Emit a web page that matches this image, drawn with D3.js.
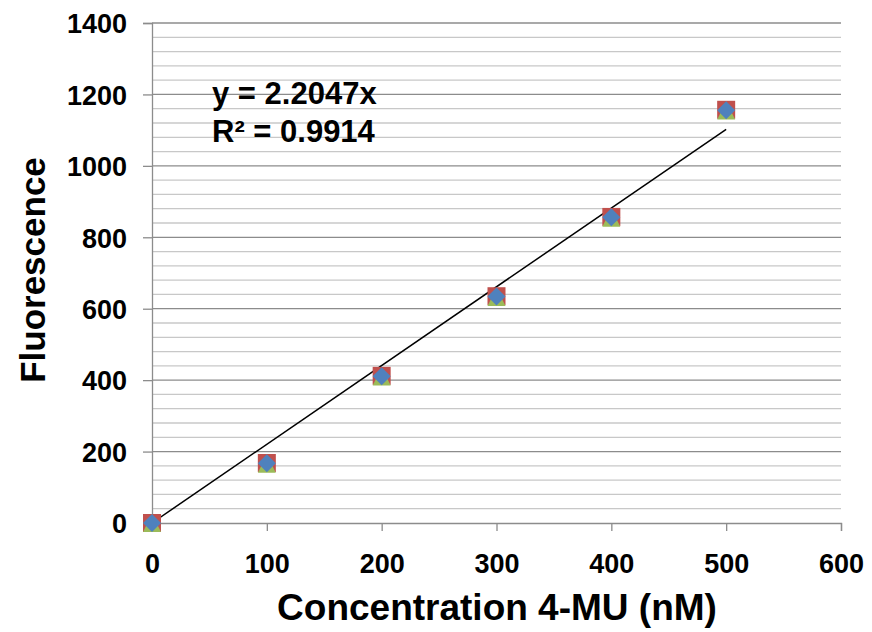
<!DOCTYPE html>
<html>
<head>
<meta charset="utf-8">
<script src="https://cdn.jsdelivr.net/npm/d3@7"></script>
<style>
  body { margin: 0; background: #fff; }
  text { font-family: "Liberation Sans", Arial, sans-serif; font-weight: bold; fill: #000; }
</style>
</head>
<body>
<svg id="chart" width="872" height="632"></svg>
<script>
// concentrations (nM) and fluorescence readings, three replicates
var concentrations = [0, 100, 200, 300, 400, 500];
var seriesRed = [0, 168, 412, 635, 857, 1157];
var seriesGreen = [0, 166, 410, 633, 855, 1155];
var seriesBlue = [0, 167, 411, 634, 856, 1156];
var xTicks = [0, 100, 200, 300, 400, 500, 600];
var yTicks = [0, 200, 400, 600, 800, 1000, 1200, 1400];
var slope = 2.2047;

var svg = d3.select('#chart');
var margin = { left: 152, right: 31, top: 23, bottom: 109 };
var W = 872, H = 632;

var x = d3.scaleLinear().domain([0, 600]).range([margin.left, W - margin.right]);
var y = d3.scaleLinear().domain([0, 1400]).range([H - margin.bottom, margin.top]);

// minor gridlines every 40
var minor = d3.range(40, 1400, 40).filter(function (v) { return v % 200 !== 0; });
svg.append('g').selectAll('line').data(minor).enter().append('line')
  .attr('x1', x(0)).attr('x2', x(600))
  .attr('y1', function (d) { return y(d); }).attr('y2', function (d) { return y(d); })
  .attr('stroke', '#c8c8c8').attr('stroke-width', 1.3);

// major gridlines
svg.append('g').selectAll('line').data(yTicks.slice(1)).enter().append('line')
  .attr('x1', x(0)).attr('x2', x(600))
  .attr('y1', function (d) { return y(d); }).attr('y2', function (d) { return y(d); })
  .attr('stroke', '#8c8c8c').attr('stroke-width', 1.3);

// axes
var fmt = d3.format('d');
var yAxis = svg.append('g').attr('transform', 'translate(' + x(0) + ',0)')
  .call(d3.axisLeft(y).tickValues(yTicks).tickFormat(fmt).tickSize(9));
var xAxis = svg.append('g').attr('transform', 'translate(0,' + y(0) + ')')
  .call(d3.axisBottom(x).tickValues(xTicks).tickFormat(fmt).tickSize(8));
[xAxis, yAxis].forEach(function (a) {
  a.select('.domain').attr('stroke', '#8c8c8c').attr('stroke-width', 1.3);
  a.selectAll('.tick line').attr('stroke', '#8c8c8c').attr('stroke-width', 1.3);
  a.selectAll('.tick text').style('font-size', '27px').style('font-family', '"Liberation Sans", Arial, sans-serif').style('font-weight', 'bold').attr('fill', '#000');
});
yAxis.selectAll('.tick text').attr('dy', '0.36em').attr('x', -25);
xAxis.selectAll('.tick text').attr('dy', null).attr('y', 50);

// trendline
svg.append('line')
  .attr('x1', x(0)).attr('y1', y(0))
  .attr('x2', x(500)).attr('y2', y(slope * 500))
  .attr('stroke', '#000').attr('stroke-width', 1.5);

var s = 9;
// red squares
svg.append('g').selectAll('rect').data(concentrations).enter().append('rect')
  .attr('x', function (d) { return x(d) - s; })
  .attr('y', function (d, i) { return y(seriesRed[i]) - s; })
  .attr('width', 2 * s).attr('height', 2 * s)
  .attr('fill', '#c0504d');
// green triangles
svg.append('g').selectAll('path').data(concentrations).enter().append('path')
  .attr('d', function (d, i) {
    var cx = x(d), cy = y(seriesGreen[i]);
    return 'M' + cx + ',' + (cy - s) + 'L' + (cx + s) + ',' + (cy + s) + 'L' + (cx - s) + ',' + (cy + s) + 'Z';
  })
  .attr('fill', '#9bbb59');
// blue diamonds
svg.append('g').selectAll('path').data(concentrations).enter().append('path')
  .attr('d', function (d, i) {
    var cx = x(d), cy = y(seriesBlue[i]);
    return 'M' + cx + ',' + (cy - s) + 'L' + (cx + s) + ',' + cy + 'L' + cx + ',' + (cy + s) + 'L' + (cx - s) + ',' + cy + 'Z';
  })
  .attr('fill', '#4f81bd');

// equation
svg.append('text').attr('x', 212).attr('y', 103.5).style('font-size', '31px').text('y = 2.2047x');
svg.append('text').attr('x', 212).attr('y', 141.5).style('font-size', '31px').text('R² = 0.9914');

// axis titles
svg.append('text').attr('x', 497).attr('y', 620)
  .attr('text-anchor', 'middle').style('font-size', '37px').text('Concentration 4-MU (nM)');
svg.append('text').attr('transform', 'translate(45,270) rotate(-90)')
  .attr('text-anchor', 'middle').style('font-size', '35px').text('Fluorescence');
</script>
</body>
</html>
